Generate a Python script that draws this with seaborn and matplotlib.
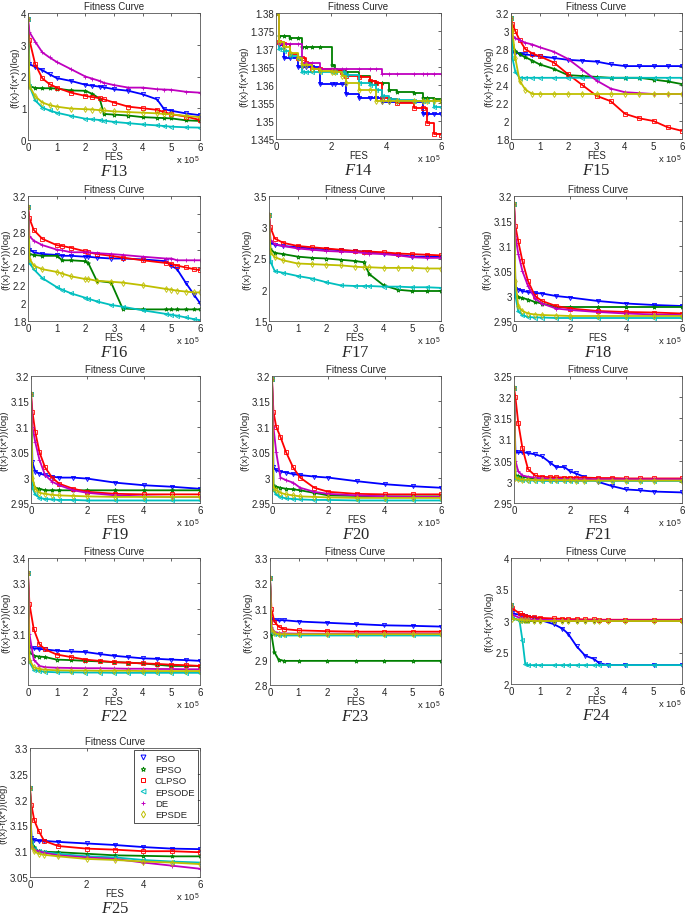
import seaborn as sns
import matplotlib.pyplot as plt
from matplotlib.lines import Line2D

algs = ['PSO', 'EPSO', 'CLPSO', 'EPSODE', 'DE', 'EPSDE']
colors = ['#0000ff', '#008000', '#ff0000', '#00bfbf', '#bf00bf', '#bfbf00']
marks = ['v', '*', 's', '<', '+', 'd']

# FES in units of 1e5, curves
f13_fes = [0, 0.05, 0.25, 0.5, 0.75, 1, 1.5, 2, 2.25, 2.5, 2.65, 3, 3.5, 4, 4.5, 4.75, 5, 5.5, 6]
f13 = dict(
    PSO=[3.8, 2.39, 2.3, 2.2, 2.07, 1.95, 1.86, 1.74, 1.71, 1.68, 1.66, 1.6, 1.55, 1.44, 1.28, 0.97, 0.92, 0.84, 0.78],
    EPSO=[3.8, 1.7, 1.64, 1.63, 1.63, 1.62, 1.56, 1.55, 1.45, 1.3, 0.82, 0.8, 0.77, 0.72, 0.7, 0.69, 0.68, 0.62, 0.6],
    CLPSO=[3.8, 3.15, 2.39, 1.94, 1.76, 1.65, 1.49, 1.39, 1.35, 1.32, 1.28, 1.18, 1.05, 1.0, 0.95, 0.88, 0.81, 0.74, 0.63],
    EPSODE=[3.8, 1.7, 1.25, 1.02, 0.93, 0.86, 0.76, 0.67, 0.65, 0.63, 0.61, 0.57, 0.53, 0.49, 0.46, 0.44, 0.42, 0.4, 0.39],
    DE=[3.8, 3.4, 3.1, 2.76, 2.6, 2.46, 2.23, 2.0, 1.93, 1.86, 1.8, 1.73, 1.65, 1.65, 1.6, 1.59, 1.58, 1.52, 1.49],
    EPSDE=[3.8, 1.7, 1.38, 1.18, 1.1, 1.05, 0.99, 0.97, 0.96, 0.94, 0.93, 0.9, 0.88, 0.86, 0.84, 0.82, 0.81, 0.76, 0.72],
)

f14_fes = [0, 0.1, 0.3, 0.5, 0.8, 0.95, 1.1, 1.3, 1.6, 2.05, 2.15, 2.4, 2.55, 3.0, 3.4, 3.65, 3.85, 4.1, 4.4, 5.0, 5.35, 5.5, 5.75, 6]
f14 = dict(
    PSO=[1.38, 1.371, 1.3675, 1.3675, 1.365, 1.365, 1.365, 1.365, 1.3602, 1.3602, 1.3602, 1.3602, 1.3575, 1.3565, 1.3565, 1.3565, 1.3552, 1.3552, 1.3552, 1.3552, 1.352, 1.352, 1.352, 1.352],
    EPSO=[1.38, 1.3735, 1.3735, 1.373, 1.373, 1.3705, 1.3705, 1.3705, 1.3705, 1.3655, 1.364, 1.364, 1.3635, 1.3625, 1.361, 1.3605, 1.3605, 1.3585, 1.358, 1.3578, 1.3565, 1.3565, 1.356, 1.3555],
    CLPSO=[1.38, 1.372, 1.3715, 1.3685, 1.3675, 1.3675, 1.366, 1.3645, 1.3645, 1.3642, 1.3642, 1.3635, 1.3625, 1.3622, 1.361, 1.3605, 1.3565, 1.3562, 1.355, 1.3535, 1.3535, 1.3495, 1.3465, 1.346],
    EPSODE=[1.38, 1.37, 1.3695, 1.368, 1.3675, 1.3635, 1.3635, 1.3635, 1.3635, 1.3635, 1.3635, 1.3635, 1.3628, 1.3605, 1.36, 1.3585, 1.357, 1.356, 1.3558, 1.3555, 1.3555, 1.3555, 1.354, 1.354],
    DE=[1.38, 1.3713, 1.3713, 1.3713, 1.3713, 1.366, 1.366, 1.366, 1.3645, 1.3645, 1.3645, 1.3645, 1.3645, 1.3645, 1.3645, 1.3645, 1.363, 1.363, 1.363, 1.363, 1.363, 1.363, 1.363, 1.363],
    EPSDE=[1.38, 1.372, 1.3705, 1.369, 1.3675, 1.3655, 1.3655, 1.3645, 1.364, 1.3635, 1.3635, 1.3625, 1.3605, 1.3585, 1.3585, 1.3555, 1.3555, 1.3555, 1.3555, 1.3555, 1.3555, 1.3555, 1.3555, 1.3555],
)

f15_fes = [0, 0.05, 0.15, 0.3, 0.5, 0.75, 1, 1.5, 2, 2.5, 3, 3.5, 4, 4.5, 5, 5.5, 6]
f15 = dict(
    PSO=[3.15, 2.77, 2.76, 2.75, 2.74, 2.73, 2.72, 2.7, 2.68, 2.67, 2.66, 2.63, 2.61, 2.61, 2.61, 2.61, 2.61],
    EPSO=[3.15, 2.85, 2.78, 2.74, 2.71, 2.67, 2.63, 2.58, 2.51, 2.5, 2.49, 2.48, 2.48, 2.48, 2.46, 2.44, 2.41],
    CLPSO=[3.15, 3.08, 3.0, 2.9, 2.8, 2.75, 2.72, 2.65, 2.52, 2.4, 2.28, 2.22, 2.08, 2.03, 2.0, 1.93, 1.89],
    EPSODE=[3.15, 2.7, 2.55, 2.48, 2.48, 2.48, 2.48, 2.48, 2.48, 2.48, 2.48, 2.48, 2.48, 2.48, 2.48, 2.48, 2.48],
    DE=[3.15, 2.95, 2.92, 2.9, 2.87, 2.85, 2.82, 2.77, 2.69, 2.57, 2.45, 2.36, 2.32, 2.31, 2.3, 2.3, 2.3],
    EPSDE=[3.15, 3.0, 2.7, 2.45, 2.35, 2.3, 2.3, 2.3, 2.3, 2.3, 2.3, 2.3, 2.3, 2.3, 2.3, 2.3, 2.3],
)

f16_fes = [0, 0.05, 0.2, 0.5, 1, 1.2, 1.5, 2, 2.1, 2.4, 2.9, 3.3, 4, 4.8, 5, 5.2, 5.5, 5.8, 6]
f16 = dict(
    PSO=[3.08, 2.6, 2.57, 2.55, 2.54, 2.53, 2.53, 2.52, 2.52, 2.51, 2.5, 2.5, 2.49, 2.47, 2.42, 2.38, 2.23, 2.09, 2.0],
    EPSO=[3.08, 2.55, 2.54, 2.53, 2.53, 2.48, 2.48, 2.47, 2.45, 2.25, 2.23, 1.94, 1.93, 1.93, 1.93, 1.93, 1.93, 1.93, 1.93],
    CLPSO=[3.08, 2.95, 2.82, 2.72, 2.65, 2.64, 2.62, 2.58, 2.57, 2.55, 2.53, 2.51, 2.48, 2.45, 2.44, 2.42, 2.4, 2.38, 2.37],
    EPSODE=[3.08, 2.45, 2.38, 2.28, 2.18, 2.15, 2.11, 2.06, 2.05, 2.02, 1.98, 1.96, 1.92, 1.88, 1.87, 1.86, 1.84, 1.82, 1.81],
    DE=[3.08, 2.75, 2.7, 2.65, 2.6, 2.59, 2.57, 2.57, 2.57, 2.56, 2.55, 2.54, 2.52, 2.5, 2.5, 2.48, 2.48, 2.48, 2.48],
    EPSDE=[3.08, 2.5, 2.42, 2.38, 2.35, 2.33, 2.3, 2.27, 2.27, 2.25, 2.24, 2.23, 2.2, 2.16, 2.15, 2.14, 2.13, 2.12, 2.12],
)

f17_fes = [0, 0.05, 0.2, 0.5, 1, 1.5, 2, 2.5, 3, 3.3, 3.5, 4, 4.5, 5, 5.5, 6]
f17 = dict(
    PSO=[3.2, 2.75, 2.72, 2.7, 2.68, 2.66, 2.65, 2.63, 2.62, 2.61, 2.6, 2.58, 2.56, 2.53, 2.53, 2.53],
    EPSO=[3.2, 2.65, 2.59, 2.57, 2.53, 2.51, 2.5, 2.48, 2.46, 2.44, 2.25, 2.07, 2.0, 1.98, 1.98, 1.98],
    CLPSO=[3.2, 3.0, 2.82, 2.75, 2.7, 2.68, 2.66, 2.64, 2.62, 2.61, 2.61, 2.6, 2.58, 2.57, 2.56, 2.55],
    EPSODE=[3.2, 2.45, 2.3, 2.27, 2.22, 2.18, 2.12, 2.07, 2.06, 2.06, 2.06, 2.05, 2.05, 2.04, 2.04, 2.03],
    DE=[3.2, 2.8, 2.73, 2.7, 2.66, 2.64, 2.62, 2.61, 2.6, 2.59, 2.58, 2.57, 2.55, 2.52, 2.51, 2.51],
    EPSDE=[3.2, 2.6, 2.52, 2.47, 2.42, 2.41, 2.4, 2.39, 2.37, 2.36, 2.36, 2.35, 2.35, 2.35, 2.34, 2.34],
)

f18_fes = [0, 0.05, 0.15, 0.3, 0.5, 0.75, 1, 1.5, 2, 3, 4, 5, 6]
f18 = dict(
    PSO=[3.185, 3.015, 3.013, 3.01, 3.008, 3.006, 3.005, 3.0, 2.997, 2.99, 2.985, 2.982, 2.98],
    EPSO=[3.185, 3.0, 2.998, 2.996, 2.993, 2.988, 2.985, 2.978, 2.978, 2.978, 2.978, 2.978, 2.978],
    CLPSO=[3.185, 3.14, 3.11, 3.07, 3.03, 3.0, 2.99, 2.98, 2.975, 2.97, 2.968, 2.967, 2.965],
    EPSODE=[3.185, 3.0, 2.97, 2.962, 2.958, 2.957, 2.957, 2.956, 2.956, 2.956, 2.956, 2.956, 2.956],
    DE=[3.185, 3.12, 3.085, 3.05, 3.02, 2.995, 2.985, 2.975, 2.972, 2.968, 2.965, 2.963, 2.962],
    EPSDE=[3.185, 3.03, 2.98, 2.97, 2.965, 2.963, 2.962, 2.961, 2.96, 2.96, 2.96, 2.96, 2.96],
)

f19_fes = [0, 0.05, 0.15, 0.3, 0.5, 0.75, 1, 1.5, 2, 3, 4, 5, 6]
f19 = dict(
    PSO=[3.165, 3.03, 3.012, 3.008, 3.005, 3.002, 3.0, 3.0, 2.998, 2.99, 2.985, 2.982, 2.978],
    EPSO=[3.165, 2.99, 2.98, 2.978, 2.975, 2.975, 2.975, 2.975, 2.975, 2.975, 2.975, 2.975, 2.975],
    CLPSO=[3.165, 3.13, 3.09, 3.05, 3.02, 3.0, 2.988, 2.978, 2.972, 2.968, 2.967, 2.967, 2.967],
    EPSODE=[3.165, 2.98, 2.967, 2.96, 2.958, 2.957, 2.956, 2.956, 2.955, 2.955, 2.955, 2.955, 2.955],
    DE=[3.165, 3.1, 3.07, 3.035, 3.005, 2.992, 2.985, 2.975, 2.97, 2.965, 2.963, 2.962, 2.962],
    EPSDE=[3.165, 3.0, 2.978, 2.97, 2.968, 2.966, 2.965, 2.964, 2.963, 2.962, 2.962, 2.962, 2.962],
)

f20_fes = [0, 0.05, 0.15, 0.3, 0.5, 0.75, 1, 1.5, 2, 3, 4, 5, 6]
f20 = dict(
    PSO=[3.195, 3.02, 3.015, 3.012, 3.01, 3.007, 3.005, 3.002, 3.0, 2.993, 2.987, 2.983, 2.98],
    EPSO=[3.195, 2.985, 2.982, 2.98, 2.978, 2.977, 2.975, 2.97, 2.965, 2.964, 2.963, 2.963, 2.963],
    CLPSO=[3.195, 3.13, 3.1, 3.08, 3.05, 3.02, 3.0, 2.98, 2.972, 2.968, 2.967, 2.967, 2.967],
    EPSODE=[3.195, 2.975, 2.967, 2.962, 2.959, 2.958, 2.957, 2.956, 2.956, 2.955, 2.955, 2.955, 2.955],
    DE=[3.195, 3.1, 3.05, 3.0, 2.995, 2.99, 2.98, 2.972, 2.968, 2.965, 2.963, 2.962, 2.962],
    EPSDE=[3.195, 2.98, 2.975, 2.97, 2.967, 2.965, 2.963, 2.962, 2.961, 2.96, 2.96, 2.96, 2.96],
)

f21_fes = [0, 0.05, 0.15, 0.3, 0.5, 0.75, 1, 1.3, 1.5, 1.8, 2, 2.2, 2.5, 3, 3.5, 4, 4.5, 5, 6]
f21 = dict(
    PSO=[3.222, 3.07, 3.07, 3.07, 3.068, 3.065, 3.06, 3.045, 3.035, 3.035, 3.025, 3.02, 3.012, 3.0, 2.99, 2.982, 2.98, 2.977, 2.975],
    EPSO=[3.222, 3.015, 3.013, 3.012, 3.01, 3.008, 3.007, 3.006, 3.006, 3.006, 3.005, 3.005, 3.005, 3.005, 3.005, 3.005, 3.005, 3.005, 3.005],
    CLPSO=[3.222, 3.2, 3.14, 3.08, 3.03, 3.015, 3.012, 3.011, 3.011, 3.01, 3.01, 3.01, 3.01, 3.009, 3.009, 3.008, 3.008, 3.008, 3.008],
    EPSODE=[3.222, 3.01, 3.006, 3.004, 3.003, 3.003, 3.002, 3.002, 3.002, 3.002, 3.002, 3.002, 3.002, 3.002, 3.002, 3.002, 3.002, 3.002, 3.002],
    DE=[3.222, 3.05, 3.025, 3.015, 3.012, 3.01, 3.008, 3.007, 3.007, 3.007, 3.006, 3.006, 3.006, 3.006, 3.006, 3.006, 3.006, 3.006, 3.006],
    EPSDE=[3.222, 3.01, 3.007, 3.005, 3.005, 3.004, 3.004, 3.004, 3.004, 3.004, 3.004, 3.003, 3.003, 3.003, 3.003, 3.003, 3.003, 3.003, 3.003],
)

f22_fes = [0, 0.05, 0.2, 0.4, 0.6, 1, 1.5, 2, 2.5, 3, 3.5, 4, 4.5, 5, 5.5, 6]
f22 = dict(
    PSO=[3.34, 3.05, 3.045, 3.042, 3.04, 3.035, 3.032, 3.03, 3.022, 3.015, 3.01, 3.005, 3.003, 3.0, 2.998, 2.995],
    EPSO=[3.34, 3.03, 3.015, 3.012, 3.01, 3.0, 2.998, 2.995, 2.993, 2.99, 2.988, 2.985, 2.98, 2.975, 2.975, 2.975],
    CLPSO=[3.34, 3.22, 3.12, 3.06, 3.04, 3.02, 3.01, 3.0, 2.995, 2.99, 2.988, 2.985, 2.983, 2.98, 2.978, 2.975],
    EPSODE=[3.34, 2.99, 2.96, 2.955, 2.952, 2.95, 2.95, 2.949, 2.949, 2.948, 2.948, 2.948, 2.948, 2.948, 2.948, 2.948],
    DE=[3.34, 3.1, 3.0, 2.975, 2.97, 2.968, 2.967, 2.966, 2.966, 2.965, 2.964, 2.964, 2.963, 2.963, 2.962, 2.962],
    EPSDE=[3.34, 3.0, 2.97, 2.963, 2.96, 2.958, 2.957, 2.957, 2.956, 2.956, 2.956, 2.955, 2.955, 2.955, 2.955, 2.955],
)

f23_fes = [0, 0.05, 0.15, 0.3, 0.5, 1, 2, 3, 4, 5, 6]
f23 = dict(
    PSO=[3.22, 3.06, 3.055, 3.055, 3.055, 3.05, 3.045, 3.04, 3.035, 3.033, 3.03],
    EPSO=[3.22, 3.0, 2.93, 2.9, 2.895, 2.895, 2.895, 2.895, 2.895, 2.895, 2.895],
    CLPSO=[3.22, 3.1, 3.05, 3.03, 3.02, 3.015, 3.012, 3.01, 3.01, 3.01, 3.01],
    EPSODE=[3.22, 3.01, 3.0, 2.995, 2.995, 2.995, 2.995, 2.995, 2.995, 2.995, 2.995],
    DE=[3.22, 3.03, 3.01, 3.005, 3.003, 3.002, 3.002, 3.002, 3.002, 3.002, 3.002],
    EPSDE=[3.22, 3.02, 3.005, 3.0, 3.0, 3.0, 3.0, 3.0, 3.0, 3.0, 3.0],
)

f24_fes = [0, 0.05, 0.3, 0.4, 0.5, 0.6, 0.8, 1, 1.5, 1.8, 2, 2.3, 2.6, 2.9, 3.1, 3.4, 4, 5, 6]
f24 = dict(
    PSO=[3.25, 3.12, 3.1, 3.09, 3.08, 3.07, 3.05, 3.02, 2.95, 2.88, 2.8, 2.6, 2.45, 2.4, 2.33, 2.3, 2.3, 2.3, 2.3],
    EPSO=[3.25, 3.05, 3.01, 3.01, 3.005, 3.0, 3.0, 3.0, 3.0, 3.0, 3.0, 3.0, 3.0, 3.0, 3.0, 3.0, 3.0, 3.0, 3.0],
    CLPSO=[3.25, 3.2, 3.12, 3.1, 3.08, 3.07, 3.06, 3.05, 3.04, 3.035, 3.03, 3.03, 3.025, 3.025, 3.02, 3.02, 3.02, 3.02, 3.02],
    EPSODE=[3.25, 3.05, 3.0, 2.7, 2.32, 2.3, 2.3, 2.3, 2.3, 2.3, 2.3, 2.3, 2.3, 2.3, 2.3, 2.3, 2.3, 2.3, 2.3],
    DE=[3.25, 3.1, 3.05, 3.04, 3.03, 3.03, 3.02, 3.02, 3.015, 3.01, 3.01, 3.01, 3.01, 3.01, 3.01, 3.01, 3.01, 3.01, 3.01],
    EPSDE=[3.25, 3.03, 3.02, 3.015, 3.01, 3.01, 3.0, 3.0, 3.0, 3.0, 3.0, 3.0, 3.0, 3.0, 3.0, 3.0, 3.0, 3.0, 3.0],
)

f25_fes = [0, 0.05, 0.15, 0.3, 0.5, 1, 2, 3, 4, 5, 6]
f25 = dict(
    PSO=[3.222, 3.125, 3.122, 3.12, 3.12, 3.118, 3.115, 3.112, 3.108, 3.105, 3.104],
    EPSO=[3.222, 3.12, 3.108, 3.1, 3.099, 3.098, 3.095, 3.092, 3.091, 3.09, 3.09],
    CLPSO=[3.222, 3.19, 3.16, 3.14, 3.12, 3.11, 3.105, 3.103, 3.1, 3.1, 3.098],
    EPSODE=[3.222, 3.115, 3.105, 3.1, 3.098, 3.095, 3.09, 3.088, 3.083, 3.08, 3.078],
    DE=[3.222, 3.11, 3.103, 3.1, 3.097, 3.092, 3.088, 3.085, 3.078, 3.072, 3.066],
    EPSDE=[3.222, 3.11, 3.1, 3.095, 3.093, 3.09, 3.085, 3.083, 3.08, 3.078, 3.075],
)

x_all = [0, 1, 2, 3, 4, 5, 6]
x_even = [0, 2, 4, 6]

# name, fes, curves, yticks, xticks, box in pixels (left, top, right, bottom)
panels = [
    ('13', f13_fes, f13, [0, 1, 2, 3, 4], x_all, (28, 14, 200, 141)),
    ('14', f14_fes, f14, [1.345, 1.35, 1.355, 1.36, 1.365, 1.37, 1.375, 1.38], x_even, (276, 14, 441, 140)),
    ('15', f15_fes, f15, [1.8, 2, 2.2, 2.4, 2.6, 2.8, 3, 3.2], x_all, (511, 14, 682, 140)),
    ('16', f16_fes, f16, [1.8, 2, 2.2, 2.4, 2.6, 2.8, 3, 3.2], x_all, (28, 197, 200, 322)),
    ('17', f17_fes, f17, [1.5, 2, 2.5, 3, 3.5], x_all, (269, 197, 441, 322)),
    ('18', f18_fes, f18, [2.95, 3, 3.05, 3.1, 3.15, 3.2], x_even, (514, 197, 682, 322)),
    ('19', f19_fes, f19, [2.95, 3, 3.05, 3.1, 3.15, 3.2], x_even, (31, 377, 200, 504)),
    ('20', f20_fes, f20, [2.95, 3, 3.05, 3.1, 3.15, 3.2], x_even, (272, 377, 441, 504)),
    ('21', f21_fes, f21, [2.95, 3, 3.05, 3.1, 3.15, 3.2, 3.25], x_even, (514, 377, 682, 504)),
    ('22', f22_fes, f22, [3, 3.1, 3.2, 3.3, 3.4], x_all, (28, 559, 200, 686)),
    ('23', f23_fes, f23, [2.8, 2.9, 3, 3.1, 3.2, 3.3], x_all, (270, 559, 441, 686)),
    ('24', f24_fes, f24, [2, 2.5, 3, 3.5, 4], x_all, (511, 559, 682, 685)),
    ('25', f25_fes, f25, [3.05, 3.1, 3.15, 3.2, 3.25, 3.3], x_even, (30, 749, 200, 878)),
]
ylims = {'22': (2.9, 3.4)}

sns.set_style('white')
plt.rcParams['font.family'] = ['Liberation Sans', 'DejaVu Sans']
plt.rcParams['mathtext.fontset'] = 'custom'
plt.rcParams['mathtext.it'] = 'Liberation Serif:italic'
plt.rcParams['mathtext.rm'] = 'Liberation Serif'

W, H = 685, 920
fig = plt.figure(figsize=(W / 100, H / 100), dpi=100)

for name, fes, curves, yt, xt, (l, t, r, b) in panels:
    ax = fig.add_axes([l / W, 1 - b / H, (r - l) / W, (b - t) / H])
    for a, c, m in zip(algs, colors, marks):
        sns.lineplot(x=fes, y=curves[a], ax=ax, color=c, marker=m, markersize=3,
                     markeredgecolor=c, markerfacecolor='none', markeredgewidth=0.6,
                     linewidth=1.3, errorbar=None, legend=False,
                     drawstyle='steps-post' if name == '14' else 'default')
    ax.set_xlim(0, 6)
    ax.set_ylim(*ylims.get(name, (yt[0], yt[-1])))
    ax.set_xticks(xt)
    ax.set_xticklabels(['%g' % v for v in xt])
    ax.set_yticks(yt)
    ax.set_yticklabels(['%g' % v for v in yt])
    ax.tick_params(direction='in', length=2.5, width=0.5, top=True, right=True,
                   labelsize=7, pad=1.2)
    for s in ax.spines.values():
        s.set_color('#555555')
        s.set_linewidth(0.6)
    ax.set_title('Fitness Curve', fontsize=7, pad=3)
    ax.set_xlabel('')
    ax.set_ylabel('(f(x)-f(x*))(log)', fontsize=6.8, labelpad=1.5)
    ax.annotate('FES', xy=(0.5, 0), xycoords='axes fraction', xytext=(0, -11.5),
                textcoords='offset points', ha='center', va='center', fontsize=7)
    ax.annotate(r'x 10$^{\mathregular{5}}$', xy=(1, 0), xycoords='axes fraction',
                xytext=(0, -14.5), textcoords='offset points', ha='right', va='center',
                fontsize=6.8)
    ax.annotate(r'$F$' + name, xy=(0.5, 0), xycoords='axes fraction', xytext=(0, -22.5),
                textcoords='offset points', ha='center', va='center', fontsize=12,
                family='Liberation Serif')
    if name == '25':
        handles = [Line2D([], [], color=c, marker=m, linestyle='none', markersize=3.5,
                          markerfacecolor='none', markeredgewidth=0.7)
                   for c, m in zip(colors, marks)]
        leg = ax.legend(handles, algs, loc='upper right', fontsize=6.8, frameon=True,
                        fancybox=False, edgecolor='black', borderaxespad=0.2,
                        handlelength=1.0, handletextpad=0.8, labelspacing=0.25,
                        borderpad=0.4)
        leg.get_frame().set_linewidth(0.6)

plt.savefig('out.png', dpi=100)
